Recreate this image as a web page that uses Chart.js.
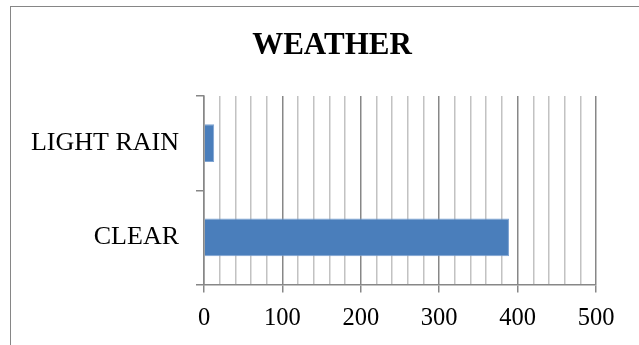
<!DOCTYPE html>
<html>
<head>
<meta charset="utf-8">
<script src="https://cdn.jsdelivr.net/npm/chart.js@4/dist/chart.umd.min.js"></script>
<style>
  html, body { margin: 0; padding: 0; background: #ffffff; overflow: hidden; }
  #wrap { position: relative; width: 639px; height: 345px; overflow: hidden; }
  #frame { position: absolute; left: 10px; top: 6px; width: 700px; height: 400px; border: 1px solid #868686; box-sizing: border-box; }
  canvas { position: absolute; left: 0; top: 0; }
</style>
</head>
<body>
<div id="wrap">
  <div id="frame"></div>
  <canvas id="c" width="639" height="345"></canvas>
</div>
<script>
const chartTitle = 'WEATHER';
const categories = ['LIGHT RAIN', 'CLEAR'];
const counts = [13, 389];
const axisMin = 0;
const axisMax = 500;
const minorStep = 20;
const majorStep = 100;

const MAJOR = '#878787';
const MINOR = '#C2C2C2';
const FONT = "'Liberation Serif', 'Times New Roman', serif";

const titlePlugin = {
  id: 'frameTitle',
  afterDraw(chart) {
    const ctx = chart.ctx;
    ctx.save();
    ctx.fillStyle = '#000000';
    ctx.font = "bold 31px " + FONT;
    ctx.textAlign = 'center';
    ctx.textBaseline = 'middle';
    ctx.fillText(chartTitle, 332, 46);
    ctx.restore();
  }
};

new Chart(document.getElementById('c'), {
  type: 'bar',
  data: {
    labels: categories,
    datasets: [{
      data: counts,
      backgroundColor: '#4A7EBB',
      borderColor: '#7EA3D2',
      borderWidth: 1,
      categoryPercentage: 0.8,
      barPercentage: 0.5
    }]
  },
  plugins: [titlePlugin],
  options: {
    indexAxis: 'y',
    responsive: false,
    devicePixelRatio: 1,
    animation: false,
    layout: { padding: { left: 0, right: 43, top: 96, bottom: 0 } },
    plugins: {
      legend: { display: false },
      tooltip: { enabled: false },
      title: { display: false }
    },
    scales: {
      x: {
        type: 'linear',
        min: axisMin,
        max: axisMax,
        afterFit: (s) => { s.height = 60.5; },
        ticks: {
          stepSize: minorStep,
          autoSkip: false,
          maxRotation: 0,
          padding: 11,
          color: '#000000',
          font: { family: FONT, size: 24.5 },
          callback: (v) => (v % majorStep === 0 ? String(v) : '')
        },
        grid: {
          drawOnChartArea: true,
          lineWidth: 1.5,
          color: (ctx) => (ctx.tick && ctx.tick.value % majorStep === 0 ? MAJOR : MINOR),
          tickColor: (ctx) => (ctx.tick && ctx.tick.value % majorStep === 0 ? MAJOR : 'rgba(0,0,0,0)'),
          tickLength: 8
        },
        border: { display: true, color: MAJOR, width: 1.5 }
      },
      y: {
        type: 'category',
        afterFit: (s) => { s.width = 204; },
        ticks: {
          padding: 17,
          color: '#000000',
          font: { family: FONT, size: 26 }
        },
        grid: {
          offset: true,
          drawOnChartArea: false,
          color: MAJOR,
          lineWidth: 1.5,
          tickLength: 8
        },
        border: { display: true, color: MAJOR, width: 1.5 }
      }
    }
  }
});
</script>
</body>
</html>
